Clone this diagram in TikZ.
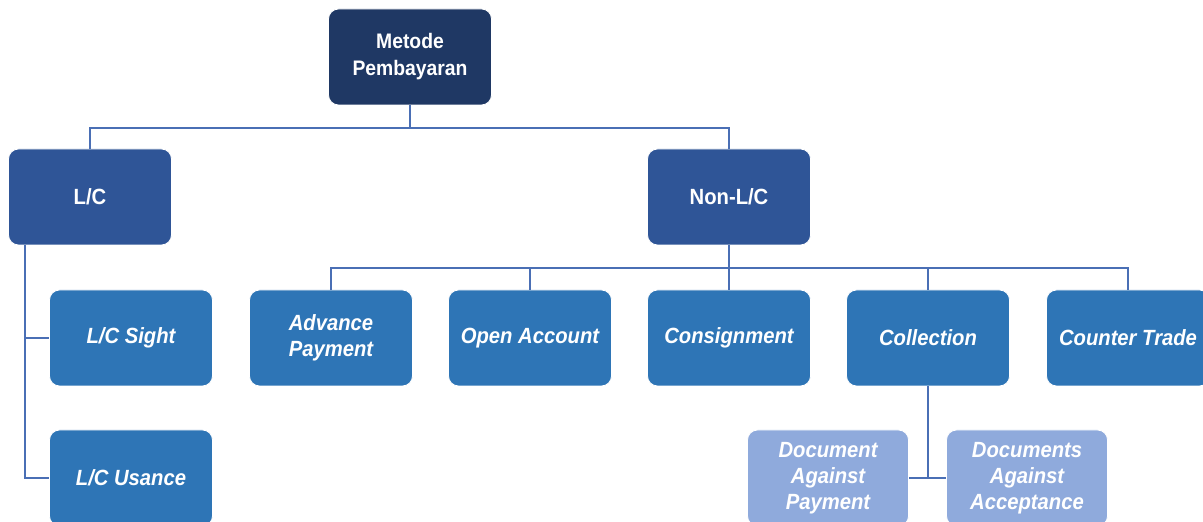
\documentclass[tikz,border=0pt]{standalone}
\usepackage{fontspec}
\setmainfont{Liberation Sans}[FakeStretch=0.92]
\usetikzlibrary{positioning}

\definecolor{rootnavy}{HTML}{1F3864}
\definecolor{groupblue}{HTML}{2F5597}
\definecolor{itemblue}{HTML}{2E75B6}
\definecolor{subblue}{HTML}{8FAADC}
\definecolor{linkblue}{HTML}{4A6FB5}

\tikzset{
  box/.style={rounded corners=5pt, minimum width=81.5pt, minimum height=48pt,
    inner sep=2pt, align=center, text=white, draw=white, line width=0.4pt},
  rootbox/.style={box, fill=rootnavy, font=\bfseries\fontsize{10.5}{13.5}\selectfont},
  groupbox/.style={box, fill=groupblue, font=\bfseries\fontsize{11}{13.5}\selectfont},
  itembox/.style={box, fill=itemblue, font=\bfseries\itshape\fontsize{11}{13}\selectfont},
  subbox/.style={box, fill=subblue, minimum width=80.5pt, font=\bfseries\itshape\fontsize{11}{13}\selectfont},
  link/.style={linkblue, line width=0.75pt}
}

\begin{document}
\begin{tikzpicture}[x=0.5pt,y=-0.5pt]
\useasboundingbox (0,0) rectangle (1203,522);

% Top level
\node[rootbox] (root) at (410,57) {Metode\\Pembayaran};

% Groups
\node[groupbox] (lc) at (90,197) {L/C};
\node[groupbox] (nonlc) at (729,197) {Non-L/C};

% L/C items
\node[itembox] (sight) at (131,338) {L/C Sight};
\node[itembox] (usance) at (131,478) {L/C Usance};

% Non-L/C items
\node[itembox] (advance) at (331,338) {Advance\\Payment};
\node[itembox] (open) at (530,338) {Open Account};
\node[itembox] (consign) at (729,338) {Consignment};
\node[itembox] (collect) at (928,338) {Collection};
\node[itembox] (counter) at (1128,338) {Counter Trade};

% Collection items
\node[subbox] (dap) at (828,478) {Document\\Against\\Payment};
\node[subbox] (daa) at (1027,478) {Documents\\Against\\Acceptance};

% The connectors
\coordinate (topbus) at (410,128);
\coordinate (nonlcbus) at (729,268);
\coordinate (lcrail) at (25,245);

\draw[link] (root.south) -- (topbus);
\draw[link] (lc.north) |- (topbus) -| (nonlc.north);

\draw[link] (nonlc.south) -- (nonlcbus);
\foreach \item in {advance,open,consign,collect,counter}
  \draw[link] (nonlcbus) -| (\item.north);

\draw[link] (lcrail) |- (sight.west);
\draw[link] (lcrail) |- (usance.west);

\draw[link] (dap.east) -- (daa.west);
\draw[link] (collect.south) -- (collect.south |- dap.east);

\end{tikzpicture}
\end{document}
